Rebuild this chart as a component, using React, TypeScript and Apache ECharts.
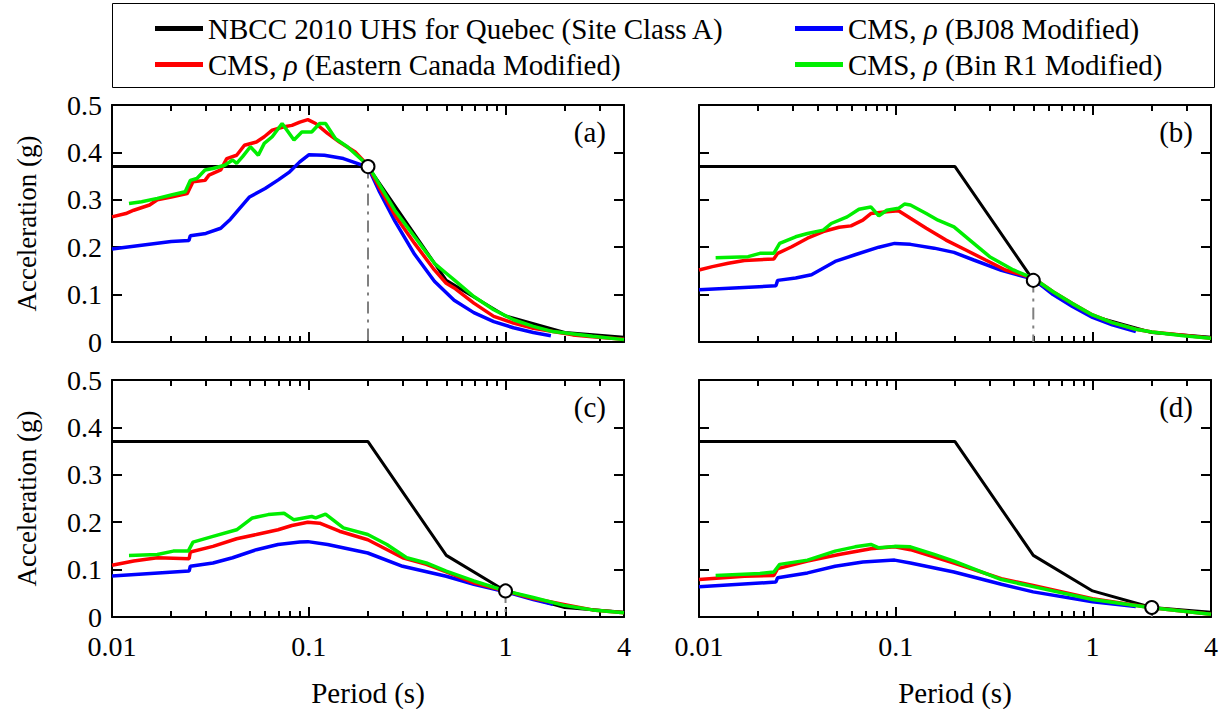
import { useEffect, useRef } from 'react';
import * as echarts from 'echarts';

const NAME_UHS = 'NBCC 2010 UHS for Quebec (Site Class A)';
const NAME_BJ08 = 'CMS, ρ (BJ08 Modified)';
const NAME_EC = 'CMS, ρ (Eastern Canada Modified)';
const NAME_BIN = 'CMS, ρ (Bin R1 Modified)';

const panelLabels = ['(a)', '(b)', '(c)', '(d)'];
const anchorPeriods = [0.2, 0.5, 1, 2];
const anchorValues = [0.37, 0.13, 0.055, 0.02];

const uhsPeriods = [0.01, 0.2, 0.5, 1, 2, 4];
const uhsValues = [0.37, 0.37, 0.13, 0.055, 0.02, 0.01];

const xMajorTicks = [0.01, 0.1, 1];
const xTickLabels = [0.01, 0.1, 1, 4];
const xMinorTicks = [0.02, 0.03, 0.04, 0.05, 0.06, 0.07, 0.08, 0.09, 0.2, 0.3, 0.4, 0.5, 0.6, 0.7, 0.8, 0.9, 2, 3];

// Panel (a)
const blueA = [[0.01, 0.196], [0.02, 0.212], [0.0246, 0.214], [0.025, 0.224], [0.03, 0.229], [0.0357, 0.24], [0.04, 0.259], [0.05, 0.306], [0.06, 0.324], [0.07, 0.342], [0.08, 0.359], [0.09, 0.38], [0.1, 0.395], [0.12, 0.394], [0.15, 0.387], [0.2, 0.369], [0.227, 0.32], [0.274, 0.255], [0.345, 0.185], [0.435, 0.128], [0.548, 0.088], [0.69, 0.062], [0.871, 0.043], [1.097, 0.03], [1.383, 0.02], [1.7, 0.013]];
const redA = [[0.01, 0.264], [0.01176, 0.271], [0.0129, 0.278], [0.01552, 0.289], [0.017, 0.3], [0.02, 0.306], [0.0241, 0.313], [0.0258, 0.338], [0.0297, 0.341], [0.0311, 0.352], [0.0357, 0.363], [0.0383, 0.387], [0.043, 0.394], [0.0471, 0.415], [0.0542, 0.422], [0.0594, 0.433], [0.0652, 0.447], [0.0749, 0.454], [0.0821, 0.457], [0.0901, 0.464], [0.0989, 0.469], [0.1084, 0.461], [0.1246, 0.44], [0.1432, 0.422], [0.1722, 0.401], [0.1995, 0.373], [0.2273, 0.327], [0.2736, 0.268], [0.345, 0.208], [0.435, 0.152], [0.4995, 0.124], [0.548, 0.114], [0.69, 0.082], [0.871, 0.054], [1.097, 0.04], [1.383, 0.029], [1.742, 0.022], [2.197, 0.015], [2.767, 0.011], [4, 0.006]];
const greenA = [[0.0122, 0.292], [0.01415, 0.296], [0.017, 0.303], [0.02, 0.31], [0.02355, 0.317], [0.025, 0.341], [0.027, 0.345], [0.0297, 0.363], [0.0326, 0.366], [0.0374, 0.373], [0.041, 0.384], [0.043, 0.377], [0.0461, 0.391], [0.0505, 0.412], [0.0554, 0.394], [0.0594, 0.419], [0.0652, 0.433], [0.0732, 0.461], [0.0841, 0.426], [0.0922, 0.443], [0.1035, 0.443], [0.1136, 0.461], [0.1217, 0.461], [0.1367, 0.429], [0.157, 0.412], [0.1995, 0.373], [0.2273, 0.334], [0.2736, 0.278], [0.345, 0.222], [0.435, 0.166], [0.4995, 0.145], [0.548, 0.131], [0.69, 0.096], [0.871, 0.068], [1.097, 0.047], [1.383, 0.033], [1.742, 0.022], [2.767, 0.012], [4, 0.005]];

// Panel (b)
const blueB = [[0.01, 0.11], [0.0246, 0.1185], [0.0251, 0.13], [0.031, 0.135], [0.0373, 0.142], [0.0492, 0.17], [0.0621, 0.184], [0.082, 0.2], [0.0986, 0.208], [0.1187, 0.206], [0.1567, 0.198], [0.1976, 0.189], [0.249, 0.173], [0.344, 0.151], [0.499, 0.133], [0.63, 0.1], [0.79, 0.075], [1.0, 0.052], [1.26, 0.036], [1.66, 0.022]];
const redB = [[0.01, 0.152], [0.0117, 0.159], [0.0141, 0.166], [0.017, 0.172], [0.024, 0.175], [0.0251, 0.187], [0.0296, 0.201], [0.0356, 0.219], [0.0428, 0.233], [0.0515, 0.242], [0.0592, 0.245], [0.068, 0.257], [0.0747, 0.271], [0.09, 0.275], [0.1033, 0.277], [0.1187, 0.261], [0.1429, 0.24], [0.18, 0.215], [0.227, 0.194], [0.2862, 0.173], [0.361, 0.152], [0.499, 0.135], [0.63, 0.106], [0.79, 0.081], [1.0, 0.057], [1.26, 0.041], [1.66, 0.027], [2.0, 0.021], [2.9, 0.014], [4, 0.008]];
const greenB = [[0.01215, 0.178], [0.01776, 0.18], [0.0204, 0.187], [0.024, 0.187], [0.0257, 0.208], [0.031, 0.222], [0.0356, 0.229], [0.0428, 0.236], [0.047, 0.25], [0.0566, 0.264], [0.065, 0.28], [0.0747, 0.285], [0.082, 0.266], [0.09, 0.278], [0.1033, 0.282], [0.1107, 0.291], [0.1187, 0.289], [0.1429, 0.271], [0.164, 0.257], [0.1976, 0.243], [0.2378, 0.215], [0.3, 0.18], [0.396, 0.152], [0.499, 0.135], [0.63, 0.106], [0.79, 0.081], [1.0, 0.057], [1.26, 0.041], [1.66, 0.027], [2.0, 0.021], [2.9, 0.013], [4, 0.008]];

// Panel (c)
const blueC = [[0.01, 0.0863], [0.02466, 0.0968], [0.025, 0.107], [0.0326, 0.114], [0.041, 0.125], [0.0542, 0.142], [0.0698, 0.153], [0.0901, 0.158], [0.0989, 0.159], [0.1246, 0.153], [0.1995, 0.135], [0.3, 0.107], [0.4995, 0.086], [0.69, 0.069], [1.0, 0.053], [1.383, 0.037], [1.742, 0.027]];
const redC = [[0.01, 0.109], [0.0129, 0.118], [0.017, 0.125], [0.02466, 0.123], [0.025, 0.137], [0.0326, 0.149], [0.043, 0.165], [0.0542, 0.174], [0.0698, 0.184], [0.0821, 0.193], [0.0989, 0.2], [0.1136, 0.198], [0.1432, 0.181], [0.1995, 0.163], [0.3, 0.125], [0.396, 0.111], [0.4995, 0.095], [0.69, 0.072], [1.0, 0.055], [1.383, 0.039], [2.197, 0.023], [2.767, 0.015], [4, 0.009]];
const greenC = [[0.0122, 0.13], [0.017, 0.132], [0.0205, 0.139], [0.0244, 0.139], [0.0258, 0.158], [0.0326, 0.17], [0.043, 0.184], [0.0517, 0.209], [0.0622, 0.216], [0.0749, 0.219], [0.0841, 0.205], [0.1035, 0.212], [0.1084, 0.209], [0.1217, 0.217], [0.15, 0.188], [0.1995, 0.174], [0.2494, 0.153], [0.3145, 0.125], [0.396, 0.114], [0.4995, 0.097], [0.69, 0.076], [1.0, 0.055], [1.383, 0.041], [1.98, 0.0245], [2.767, 0.015], [4, 0.009]];

// Panel (d)
const blueD = [[0.01, 0.0638], [0.02456, 0.0736], [0.0251, 0.0827], [0.0356, 0.093], [0.0492, 0.107], [0.068, 0.116], [0.0986, 0.12], [0.1187, 0.114], [0.1976, 0.095], [0.344, 0.069], [0.499, 0.053], [1.0, 0.032], [1.66, 0.022]];
const redD = [[0.01, 0.079], [0.017, 0.086], [0.024, 0.0877], [0.0251, 0.102], [0.0356, 0.118], [0.0515, 0.132], [0.0747, 0.144], [0.0986, 0.148], [0.1187, 0.142], [0.1976, 0.114], [0.344, 0.081], [0.499, 0.0666], [1.0, 0.0386], [2.0, 0.0196], [4, 0.0056]];
const greenD = [[0.01215, 0.0877], [0.0204, 0.092], [0.024, 0.095], [0.0257, 0.111], [0.0356, 0.12], [0.0492, 0.139], [0.0621, 0.148], [0.0747, 0.153], [0.082, 0.146], [0.0986, 0.149], [0.1187, 0.148], [0.1567, 0.132], [0.1976, 0.118], [0.344, 0.079], [0.499, 0.064], [1.0, 0.037], [2.0, 0.0196], [4, 0.0056]];

const blueSets = [blueA, blueB, blueC, blueD];
const redSets = [redA, redB, redC, redD];
const greenSets = [greenA, greenB, greenC, greenD];

const FONT = "'Liberation Serif', 'Times New Roman', Times, serif";
const FS = 29;
const TICK_FS = 28;

const gridPos = [
  { left: 112, top: 105 },
  { left: 699, top: 105 },
  { left: 112, top: 380 },
  { left: 699, top: 380 },
];
const GW = 512;
const GH = 237;

function fmtX(v: number) {
  if (Math.abs(v - 4) < 1e-6) return '4';
  return String(+Number(v).toPrecision(3));
}

function buildOption() {
  const grid: any[] = [];
  const xAxis: any[] = [];
  const yAxis: any[] = [];
  const series: any[] = [];
  const graphic: any[] = [];

  for (let i = 0; i < 4; i++) {
    const isBottom = i >= 2;
    const isLeft = i % 2 === 0;
    grid.push({ left: gridPos[i].left, top: gridPos[i].top, width: GW, height: GH, containLabel: false });
    const baseX = {
      type: 'log', logBase: 10, min: 0.01, max: 4, gridIndex: i,
      splitLine: { show: false }, minorTick: { show: false },
    };
    xAxis.push({
      ...baseX, position: 'bottom',
      axisLine: { show: true, onZero: false, lineStyle: { color: '#000', width: 2 } },
      axisTick: { show: true, inside: true, length: 10, lineStyle: { color: '#000', width: 2 }, customValues: xMajorTicks },
      axisLabel: {
        show: isBottom, customValues: xTickLabels, formatter: fmtX, margin: 17,
        fontSize: TICK_FS, fontFamily: FONT, color: '#000', lineHeight: 24,
      },
      name: isBottom ? 'Period (s)' : '', nameLocation: 'middle', nameGap: 61,
      nameTextStyle: { fontSize: FS, fontFamily: FONT, color: '#000' },
    });
    xAxis.push({
      ...baseX, position: 'bottom',
      axisLine: { show: false, onZero: false },
      axisTick: { show: true, inside: true, length: 6, lineStyle: { color: '#000', width: 2 }, customValues: xMinorTicks },
      axisLabel: { show: false },
    });
    xAxis.push({
      ...baseX, position: 'top',
      axisLine: { show: true, onZero: false, lineStyle: { color: '#000', width: 2 } },
      axisTick: { show: true, inside: true, length: 10, lineStyle: { color: '#000', width: 2 }, customValues: xMajorTicks },
      axisLabel: { show: false },
    });
    xAxis.push({
      ...baseX, position: 'top',
      axisLine: { show: false, onZero: false },
      axisTick: { show: true, inside: true, length: 6, lineStyle: { color: '#000', width: 2 }, customValues: xMinorTicks },
      axisLabel: { show: false },
    });

    const baseY = {
      type: 'value', min: 0, max: 0.5, interval: 0.1, gridIndex: i,
      splitLine: { show: false },
      axisLine: { show: true, onZero: false, lineStyle: { color: '#000', width: 2 } },
      axisTick: { show: true, inside: true, length: 10, lineStyle: { color: '#000', width: 2 } },
    };
    yAxis.push({
      ...baseY, position: 'left',
      axisLabel: {
        show: isLeft, margin: 10, fontSize: TICK_FS, fontFamily: FONT, color: '#000', lineHeight: 24,
        formatter: (v: number) => (v === 0 ? '0' : v.toFixed(1)),
      },
      name: isLeft ? 'Acceleration (g)' : '', nameLocation: 'middle', nameGap: 72, nameRotate: 90,
      nameTextStyle: { fontSize: 27, fontFamily: FONT, color: '#000' },
    });
    yAxis.push({ ...baseY, position: 'right', axisLabel: { show: false } });

    const xi = i * 4;
    const yi = i * 2;
    series.push({
      type: 'line', name: 'guide' + i, xAxisIndex: xi, yAxisIndex: yi, silent: true,
      symbol: 'none', data: [[anchorPeriods[i], anchorValues[i]], [anchorPeriods[i], 0]],
      lineStyle: { color: '#808080', width: 2, type: [12, 6, 3, 6] }, z: 1,
    });
    series.push({
      type: 'line', name: NAME_UHS, xAxisIndex: xi, yAxisIndex: yi, symbol: 'none',
      data: uhsPeriods.map((p, k) => [p, uhsValues[k]]),
      lineStyle: { color: '#000', width: 3 }, itemStyle: { color: '#000' }, z: 2,
    });
    series.push({
      type: 'line', name: NAME_BJ08, xAxisIndex: xi, yAxisIndex: yi, symbol: 'none',
      data: blueSets[i], lineStyle: { color: '#0000ff', width: 3.5 }, itemStyle: { color: '#0000ff' }, z: 3,
    });
    series.push({
      type: 'line', name: NAME_EC, xAxisIndex: xi, yAxisIndex: yi, symbol: 'none',
      data: redSets[i], lineStyle: { color: '#ff0000', width: 3.5 }, itemStyle: { color: '#ff0000' }, z: 4,
    });
    series.push({
      type: 'line', name: NAME_BIN, xAxisIndex: xi, yAxisIndex: yi, symbol: 'none',
      data: greenSets[i], lineStyle: { color: '#00ee00', width: 3.5 }, itemStyle: { color: '#00ee00' }, z: 5,
    });
    series.push({
      type: 'scatter', name: 'anchor' + i, xAxisIndex: xi, yAxisIndex: yi, silent: true,
      symbol: 'circle', symbolSize: 13, data: [[anchorPeriods[i], anchorValues[i]]],
      itemStyle: { color: '#ffffff', opacity: 1, borderColor: '#000', borderWidth: 2 }, z: 10,
    });

    graphic.push({
      type: 'text', x: gridPos[i].left + GW - 18, y: gridPos[i].top + 27,
      style: { text: panelLabels[i], fontSize: FS, fontFamily: FONT, fill: '#000', align: 'right', verticalAlign: 'middle' },
      z: 20,
    });
  }

  graphic.push({
    type: 'rect', shape: { x: 112.5, y: 3.5, width: 1102, height: 84 },
    style: { fill: 'none', stroke: '#000', lineWidth: 1 }, z: 0,
  });

  const legendText = {
    fontSize: FS, fontFamily: FONT, color: '#000', lineHeight: 29,
    rich: { i: { fontSize: FS, fontFamily: FONT, fontStyle: 'italic', color: '#000', lineHeight: 29 } },
  };
  const legendFmt = (name: string) => name.replace('ρ', '{i|ρ}');
  const legendBase = {
    orient: 'vertical', top: 9, itemWidth: 48, itemHeight: 5, itemGap: 7,
    icon: 'rect', itemStyle: { borderWidth: 0 }, textStyle: legendText, formatter: legendFmt,
    selectedMode: false,
  };

  return {
    animation: false,
    backgroundColor: '#fff',
    grid,
    xAxis,
    yAxis,
    series,
    graphic,
    legend: [
      { ...legendBase, left: 150, data: [NAME_UHS, NAME_EC] },
      { ...legendBase, left: 790, data: [NAME_BJ08, NAME_BIN] },
    ],
  };
}

export default function App() {
  const ref = useRef<HTMLDivElement>(null);
  useEffect(() => {
    if (!ref.current) return;
    const chart = echarts.init(ref.current, null, { renderer: 'svg' });
    chart.setOption(buildOption() as any);
    return () => chart.dispose();
  }, []);
  return (
    <div
      ref={ref}
      style={{ position: 'fixed', left: 0, top: 0, width: 1230, height: 709, background: '#fff' }}
    />
  );
}
